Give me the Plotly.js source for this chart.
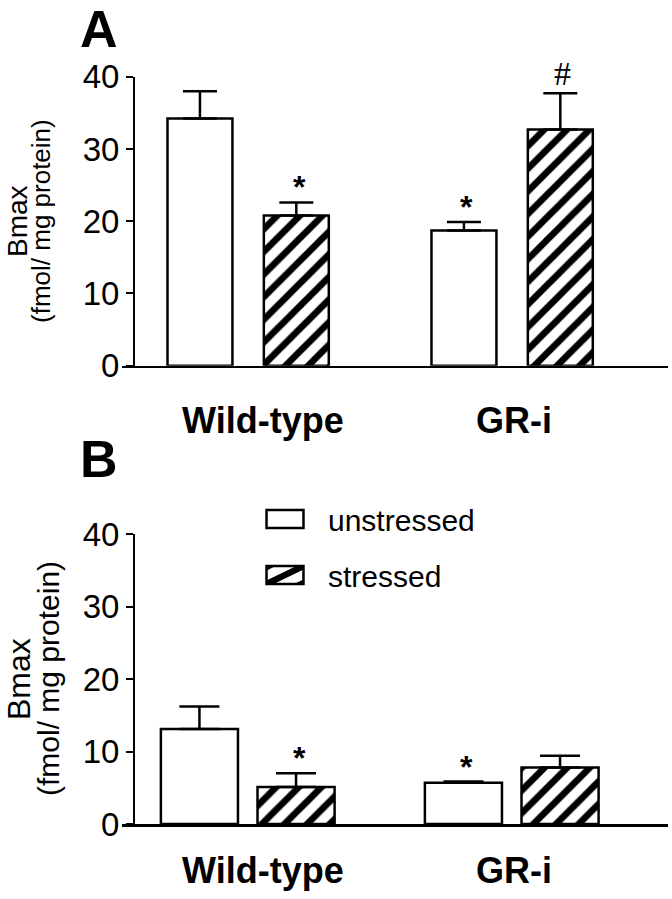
<!DOCTYPE html>
<html><head><meta charset="utf-8">
<script src="https://cdn.plot.ly/plotly-3.0.1.min.js"></script>
<style>html,body{margin:0;padding:0;background:#fff}</style>
</head><body>
<div id="chart" style="width:672px;height:899px"></div>
<script>
// ---------- data ----------
const categories = ['Wild-type', 'GR-i'];
const seriesNames = ['unstressed', 'stressed'];
const panelLabels = ['A', 'B'];
const yTitleLines = ['Bmax', '(fmol/ mg protein)'];
const yTickVals = [0, 10, 20, 30, 40];

const aUnstressed = [34.2, 18.7];
const aUnstressedErr = [3.8, 1.2];
const aStressed = [20.8, 32.7];
const aStressedErr = [1.8, 5.0];

const bUnstressed = [13.1, 5.7];
const bUnstressedErr = [3.1, 0.15];
const bStressed = [5.1, 7.8];
const bStressedErr = [1.9, 1.6];

const aUnstressedMarks = ['', '*'];
const aStressedMarks = ['*', '#'];
const bUnstressedMarks = ['', '*'];
const bStressedMarks = ['*', ''];

// ---------- style ----------
const W = 672, H = 899;
const FONT = 'Liberation Sans, Arial, sans-serif';
const xRange = [-0.4773, 1.5909];
const px = v => v / W;
const py = v => 1 - v / H;

const panels = [
  {xa: 'x', ya: 'y', width: 0.246, offU: -0.305, offS: 0.060, cap: 17,
   u: aUnstressed, ue: aUnstressedErr, s: aStressed, se: aStressedErr,
   um: aUnstressedMarks, sm: aStressedMarks, legend: false},
  {xa: 'x2', ya: 'y2', width: 0.292, offU: -0.330, offS: 0.036, cap: 20,
   u: bUnstressed, ue: bUnstressedErr, s: bStressed, se: bStressedErr,
   um: bUnstressedMarks, sm: bStressedMarks, legend: true}
];

const traces = [];
const annotations = [];
panels.forEach((p, pi) => {
  const zeros = categories.map(() => 0);
  traces.push({
    type: 'bar', name: seriesNames[0], x: categories, y: p.u,
    xaxis: p.xa, yaxis: p.ya, width: p.width, offset: p.offU,
    showlegend: p.legend, legendgroup: 'g0',
    marker: {color: '#ffffff', line: {color: '#000', width: 2.5}},
    error_y: {type: 'data', symmetric: false, array: p.ue, arrayminus: zeros,
              color: '#000', thickness: 2.5, width: p.cap}
  });
  traces.push({
    type: 'bar', name: seriesNames[1], x: categories, y: p.s,
    xaxis: p.xa, yaxis: p.ya, width: p.width, offset: p.offS,
    showlegend: p.legend, legendgroup: 'g1',
    marker: {color: '#ffffff', line: {color: '#000', width: 2.5},
             pattern: {shape: '/', size: 16, solidity: 0.42, fgcolor: '#000',
                       bgcolor: '#fff', fillmode: 'replace'}},
    error_y: {type: 'data', symmetric: false, array: p.se, arrayminus: zeros,
              color: '#000', thickness: 2.5, width: p.cap}
  });
  // significance marks
  [[p.u, p.ue, p.um, p.offU], [p.s, p.se, p.sm, p.offS]].forEach(([vals, errs, marks, off]) => {
    categories.forEach((c, i) => {
      if (!marks[i]) return;
      const isHash = marks[i] === '#';
      annotations.push({
        xref: p.xa, yref: p.ya, x: i + off + p.width / 2, y: vals[i] + errs[i],
        text: marks[i], showarrow: false, yanchor: 'middle', xanchor: 'center',
        yshift: isHash ? 20 : 15, xshift: isHash ? 2 : 3,
        font: isHash ? {family: 'Liberation Serif, serif', size: 34, color: '#000'}
                     : {family: FONT, size: 32, color: '#000', weight: 'bold'}
      });
    });
  });
});

// panel letters
const letterPos = [[80, 0], [80, 430]];
panelLabels.forEach((t, i) => annotations.push({
  xref: 'paper', yref: 'paper', x: px(letterPos[i][0]), y: py(letterPos[i][1]),
  xanchor: 'left', yanchor: 'top', text: '<b>' + t + '</b>', showarrow: false,
  borderpad: 0, borderwidth: 0,
  font: {family: FONT, size: 52, color: '#000'}
}));

// category labels under each panel
const catShift = [15, 2];
const catY = [420, 870];
['x', 'x2'].forEach((xa, pi) => categories.forEach((c, i) => annotations.push({
  xref: xa, yref: 'paper', x: c, y: py(catY[pi]), xshift: catShift[i],
  xanchor: 'center', yanchor: 'middle', text: '<b>' + c + '</b>', showarrow: false,
  font: {family: FONT, size: 36, color: '#000'}
})));

// y titles
const yTitle = [
  {cy: 221, x1: 17, x2: 41, s1: 28, s2: 26},
  {cy: 679, x1: 19, x2: 48, s1: 32, s2: 30}
];
yTitle.forEach(t => {
  [[t.x1, t.s1], [t.x2, t.s2]].forEach(([xx, sz], li) => annotations.push({
    xref: 'paper', yref: 'paper', x: px(xx), y: py(t.cy), xanchor: 'center', yanchor: 'middle',
    text: yTitleLines[li], textangle: -90, showarrow: false, borderpad: 0,
    font: {family: FONT, size: sz, color: '#000'}
  }));
});

const xAxisBase = {
  range: xRange, domain: [px(122), px(668)], showline: true, linecolor: '#000',
  linewidth: 2.5, ticks: '', showticklabels: false, showgrid: false, zeroline: false,
  type: 'category', fixedrange: true
};
const yAxisBase = {
  range: [0, 40], tickvals: yTickVals, ticks: 'outside', ticklen: 7, tickwidth: 2,
  tickcolor: '#000', showline: true, linecolor: '#000', linewidth: 2,
  showgrid: false, zeroline: false, anchor: 'free', position: px(134),
  tickfont: {family: FONT, size: 33, color: '#000'}, fixedrange: true
};

const layout = {
  width: W, height: H, margin: {l: 0, r: 0, t: 0, b: 0},
  paper_bgcolor: '#fff', plot_bgcolor: 'rgba(0,0,0,0)',
  barmode: 'group', showlegend: true, hovermode: false,
  xaxis: Object.assign({}, xAxisBase, {anchor: 'y'}),
  xaxis2: Object.assign({}, xAxisBase, {anchor: 'y2'}),
  yaxis: Object.assign({}, yAxisBase, {domain: [py(365.7), py(76.7)]}),
  yaxis2: Object.assign({}, yAxisBase, {domain: [py(824), py(534)]}),
  legend: {x: px(242), y: py(493), xanchor: 'left', yanchor: 'top',
           font: {family: FONT, size: 30, color: '#000'}, itemwidth: 76,
           traceorder: 'grouped', tracegroupgap: 14, bgcolor: 'rgba(0,0,0,0)',
           borderwidth: 0},
  annotations: annotations
};

Plotly.newPlot('chart', traces, layout, {displayModeBar: false, staticPlot: true}).then(() => {
  document.querySelectorAll('.legend .legendpoints path').forEach(el => {
    const tr = el.getAttribute('transform') || '';
    el.setAttribute('transform', tr + ' scale(3.08,1.5)');
    el.style.vectorEffect = 'non-scaling-stroke';
  });
});
</script>
</body></html>
